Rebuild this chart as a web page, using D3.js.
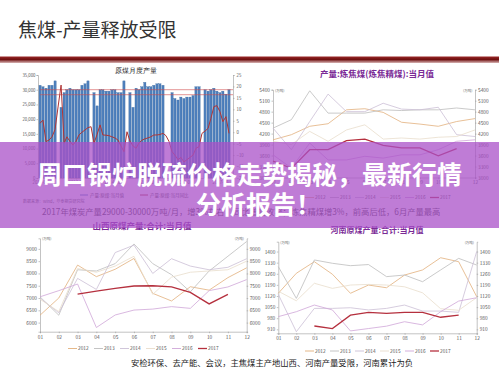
<!DOCTYPE html>
<html>
<head>
<meta charset="UTF-8">
<title>焦煤-产量释放受限</title>
<script src="https://cdn.jsdelivr.net/npm/d3@7"></script>
<style>
  body { margin: 0; background: #fff; }
  svg { display: block; font-family: 'Noto Sans CJK SC', 'Noto Sans', sans-serif; }
  .axis .domain, .axis .tick line { stroke: #9a9a9a; stroke-width: 0.6; }
  .axis text { fill: #555; }
</style>
</head>
<body>
<svg id="slide" width="499" height="375"></svg>
<script>
// ---- data ----
var monthStart = new Date(2012, 5, 1);   // 2012-06, one value per month
var coalOutput = [31500, 31000, 30500, 31500, 31500, 33000, null,
  24000, 29000, 30000, 30500, 30000, 30000, 30000, 31500, 32000, 33000, null,
  29000, 24500, 30000, 30000, 29500, 29500, 30000, 30000, 29000, 29000, 33000, null,
  29000, 24000, 30500, 30000, 31000, 32500, 31000, 31000, 31500, 32000, 32000, 31500, null, null,
  29000, 27000, 26500, 27500, 27000, 27500, 27500, 28000, 31000, 31000, null,
  30000, 29500, 30000, 30500, 29500, 29000, 29500, 28500, 30000];
var coalYoy = [3.9, 5.3, -4.1, -3.4, -2, 1.2, 11, 20.6, -4.8, -2, -4, -5.6,
  -4, -1.2, 0, 1, 2, 2.4, -4.8, -1, 3.2, -1.2, -1.3, -1.5,
  -2, -2.5, -3.4, -6, -8.5, 0.2, -3.9, -6, -7, -4.8, -3.5, -2.9,
  -2.5, -2, -1.2, -1.2, -1, -0.5, -1.5, -4, -8.5, -10, -12, -11,
  -13, -12, -11, -10, -7, -6.3, -0.5, 0.5, 1.7, 6, 11.2, 11.6,
  9, 4.6, 6.8, -0.5];
var targetBand = [30000, 28300];
var outputTicks = [0, 5000, 10000, 15000, 20000, 25000, 30000, 35000];
var yoyTicks = [-20, -15, -10, -5, 0, 5, 10, 15, 20, 25];
var dateTicks = ['2012-06', '2013-06', '2014-06', '2015-06', '2016-06', '2017-06'];

var years = ['2012', '2013', '2014', '2015', '2016', '2017'];
var months = ['01', '02', '03', '04', '05', '06', '07', '08', '09', '10', '11', '12'];

var cokingCoal = [
  [4030, 4170, 4400, 4470, 4850, 4880, 4780, 4510, 4460, 4400, 4530, 4610],
  [4350, 4580, 5370, 4760, 4760, 4760, 4850, 4830, 4850, 4850, 4900, 4850],
  [4350, 3760, 4530, 5280, 4800, 4800, 5030, 4870, 4850, 4920, 4170, 4120],
  [3990, 3900, 4260, 3990, 4300, 4440, 4050, 4080, 4050, 4100, 4120, 4300],
  [3620, 3260, 3940, 3480, 3480, 3580, 3530, 3620, 3620, 3760, 3990, 4030],
  [3450, 3250, 3760, 3760, 4010, 4050, 3880, 3810, 3810, 3590, 3790, null]];
var cokingTicks = [3000, 3300, 3600, 3900, 4200, 4500, 4800, 5100, 5400];

var shanxiCoal = [
  [6300, 7000, 8340, 7870, 8170, 8610, 7190, 6880, 7460, 7320, 7830, 8230],
  [7050, 6300, 8150, 8100, 8400, 9200, 8400, 7950, 7250, 8100, 8700, 9300],
  [7000, 6400, 7800, 7350, 8850, 9150, 8000, 8600, 8300, 8150, 8250, 8600],
  [6950, 6450, 8200, 8050, 8300, 8700, 7150, 7850, 8050, 8100, 8150, 8500],
  [7050, 7300, 7570, 5800, 6310, 6510, 6550, 6650, 6580, 7300, 7450, 7750],
  [null, null, 7160, 7280, 7390, 7490, 7500, 7450, 7230, 6760, 7150, null]];
var shanxiTicks = [6000, 6500, 7000, 7500, 8000, 8500, 9000];

var henanCoal = [
  [1137, 1263, 1336, 1257, 1137, 1189, 1172, 1252, 1284, 1361, 1336, 1116],
  [1305, 1105, 1347, 1326, 1311, 1318, 1242, 1252, 1210, 1284, 1357, 1315],
  [1130, 895, 1042, 1042, 1046, 1032, 1042, 1063, 1025, 1025, 1017, 1400],
  [1150, 1090, 1200, 1168, 1189, 1193, 1189, 1178, 1140, 1040, 1030, 1110],
  [990, 1021, 1063, 1032, 900, 915, 930, 958, 938, 1021, 1088, 1109],
  [null, null, 931, 915, 999, 1017, 1010, 1017, 1017, 986, 999, null]];
var henanTicks = [910, 980, 1050, 1120, 1190, 1260, 1330, 1400];

var yearColors = ['#e2b07c', '#bdbdbd', '#cbbfd6', '#e9ddcc', '#cfa6d8', '#b5303e'];
var titleColor = '#7a2a96';
var fontCJK = "'Noto Sans CJK SC', 'Noto Sans', sans-serif";

var svg = d3.select('#slide');

// small helper: d3.axis writes its own font attrs, so set ours after the call
function styleAxis(sel, size) {
  sel.attr('font-size', size).attr('font-family', fontCJK);
  return sel;
}

// ---- slide header ----
svg.append('text')
   .attr('x', 18).attr('y', 37)
   .attr('font-size', 19).attr('fill', '#333')
   .text('焦煤-产量释放受限');

var grad = svg.append('defs').append('linearGradient')
   .attr('id', 'band').attr('x1', 0).attr('y1', 0).attr('x2', 0).attr('y2', 1);
grad.append('stop').attr('offset', '0%').attr('stop-color', '#9c2a2a');
grad.append('stop').attr('offset', '45%').attr('stop-color', '#6e0d0d');
grad.append('stop').attr('offset', '100%').attr('stop-color', '#d9b5b5');
svg.append('rect').attr('x', 0).attr('y', 56.5).attr('width', 499).attr('height', 6.5)
   .attr('fill', 'url(#band)');

// ---- chart 1: monthly raw coal output ----
var c1 = svg.append('g');
var monthDates = coalOutput.map(function(d, i) { return d3.timeMonth.offset(monthStart, i); });
var x1 = d3.scaleTime()
           .domain([monthStart, monthDates[monthDates.length - 1]])
           .range([40, 229]);
var y1 = d3.scaleLinear().domain([0, 35000]).range([178, 75]);
var y1r = d3.scaleLinear().domain([-20, 25]).range([178, 75]);
var parseMonth = d3.timeParse('%Y-%m');

c1.append('text').attr('x', 136).attr('y', 73).attr('text-anchor', 'middle')
  .attr('font-size', 6.5).attr('fill', '#222').attr('font-family', "'DejaVu Serif', serif")
  .text('原煤月度产量');

c1.selectAll('rect.bar')
  .data(coalOutput.map(function(v, i) { return { date: monthDates[i], v: v }; })
                  .filter(function(d) { return d.v !== null; }))
  .enter().append('rect')
    .attr('class', 'bar')
    .attr('x', function(d) { return x1(d.date) - 1.1; })
    .attr('y', function(d) { return y1(d.v); })
    .attr('width', 2.2)
    .attr('height', function(d) { return y1(0) - y1(d.v); })
    .attr('fill', '#4f80bd')
    .attr('stroke', '#2e5f99').attr('stroke-width', 0.3);

c1.selectAll('line.target')
  .data(targetBand)
  .enter().append('line')
    .attr('x1', 40).attr('x2', 233)
    .attr('y1', function(d) { return y1(d); })
    .attr('y2', function(d) { return y1(d); })
    .attr('stroke', '#d24a4a').attr('stroke-width', 0.6);

c1.append('path')
  .datum(coalYoy)
  .attr('fill', 'none').attr('stroke', '#b03535').attr('stroke-width', 1)
  .attr('d', d3.line()
      .x(function(d, i) { return x1(monthDates[i]); })
      .y(function(d) { return y1r(d); }));

c1.append('g').attr('class', 'axis')
  .attr('transform', 'translate(38,0)')
  .call(d3.axisLeft(y1).tickValues(outputTicks).tickSize(1.5).tickPadding(1))
  .call(styleAxis, 4.3);
c1.append('g').attr('class', 'axis')
  .attr('transform', 'translate(233,0)')
  .call(d3.axisRight(y1r).tickValues(yoyTicks).tickSize(1.5).tickPadding(2))
  .call(styleAxis, 4.3);
c1.append('g').attr('class', 'axis')
  .attr('transform', 'translate(0,178)')
  .call(d3.axisBottom(x1).tickValues(dateTicks.map(parseMonth))
          .tickFormat(d3.timeFormat('%Y-%m')).tickSize(1.5).tickPadding(1.5))
  .call(styleAxis, 4.3);

var leg1 = [['产量:原煤:当月值', '#4f80bd'], ['产量:原煤:当月同比', '#b03535']];
var l1 = c1.selectAll('g.leg').data(leg1).enter().append('g')
  .attr('transform', function(d, i) { return 'translate(' + (80 + i * 60) + ',195)'; });
l1.append('line').attr('x1', 0).attr('x2', 8).attr('stroke', function(d) { return d[1]; }).attr('stroke-width', 1);
l1.append('text').attr('x', 10).attr('y', 1.6).attr('font-size', 4.5).attr('fill', '#444')
  .text(function(d) { return d[0]; });
c1.append('text').attr('x', 23).attr('y', 203).attr('font-size', 4).attr('fill', '#555')
  .text('数据来源：Wind，华泰期货研究院');

// ---- charts 2–4: monthly values by year ----
function yearChart(series, ticks, box, title) {
  var g = svg.append('g');
  var x = d3.scalePoint().domain(months).range([box.left, box.right]);
  var y = d3.scaleLinear().domain(box.domain).range([box.bottom, box.top]);

  g.append('text').attr('x', box.titleX).attr('y', box.titleY).attr('text-anchor', 'middle')
   .attr('font-size', box.titleSize).attr('font-weight', 700).attr('fill', titleColor)
   .text(title);

  g.append('g').attr('class', 'axis')
   .attr('transform', 'translate(' + box.left + ',0)')
   .call(d3.axisLeft(y).tickValues(ticks).tickSize(1.5).tickPadding(1.5).tickFormat(d3.format('d')))
   .call(styleAxis, 4.8);
  g.append('g').attr('class', 'axis')
   .attr('transform', 'translate(' + box.right + ',0)')
   .call(d3.axisRight(y).tickValues(ticks).tickSize(1.5).tickPadding(1.5).tickFormat(d3.format('d')))
   .call(styleAxis, 4.8);
  g.append('g').attr('class', 'axis')
   .attr('transform', 'translate(0,' + box.bottom + ')')
   .call(d3.axisBottom(x).tickSize(1.5).tickPadding(2))
   .call(styleAxis, 4.8);

  [box.left + 2, box.right - 12].forEach(function(ux) {
    g.append('text').attr('x', ux).attr('y', box.top + 2).attr('font-size', 3.5)
     .attr('fill', '#666').text('(万吨)');
  });

  var line = d3.line()
     .defined(function(d) { return d !== null; })
     .x(function(d, i) { return x(months[i]); })
     .y(function(d) { return y(d); });

  g.selectAll('path.yr').data(series).enter().append('path')
   .attr('class', 'yr')
   .attr('fill', 'none')
   .attr('stroke', function(d, i) { return yearColors[i]; })
   .attr('stroke-width', function(d, i) { return i === 5 ? 1.3 : 0.8; })
   .attr('d', line);

  var lg = g.selectAll('g.leg').data(years).enter().append('g')
   .attr('transform', function(d, i) { return 'translate(' + (box.legendX + i * box.legendStep) + ',' + box.legendY + ')'; });
  lg.append('line').attr('x1', 0).attr('x2', 9)
    .attr('stroke', function(d, i) { return yearColors[i]; })
    .attr('stroke-width', function(d, i) { return i === 5 ? 1.3 : 0.9; });
  lg.append('text').attr('x', 10).attr('y', 1.7).attr('font-size', 4.8).attr('fill', '#555')
    .text(function(d) { return d; });
}

yearChart(cokingCoal, cokingTicks,
  { left: 273, right: 475, top: 89.7, bottom: 177.5, domain: [3000, 5400],
    titleX: 377, titleY: 77, titleSize: 8.5, legendX: 305, legendY: 197.5, legendStep: 25 },
  '产量:炼焦煤(炼焦精煤):当月值');
yearChart(shanxiCoal, shanxiTicks,
  { left: 40, right: 246.7, top: 238.3, bottom: 331.7, domain: [5630, 9430],
    titleX: 142, titleY: 229, titleSize: 8.5, legendX: 68, legendY: 348.5, legendStep: 26 },
  '山西原煤产量:合计:当月值');
yearChart(henanCoal, henanTicks,
  { left: 278.3, right: 476.7, top: 241.7, bottom: 333.3, domain: [885, 1462],
    titleX: 377, titleY: 233, titleSize: 8, legendX: 305, legendY: 351, legendStep: 25 },
  '河南原煤产量:合计:当月值');

// ---- notes ----
svg.append('text').attr('x', 42).attr('y', 215).attr('font-size', 8.3).attr('fill', '#444')
   .text('2017年煤炭产量29000-30000万吨/月，增3%左右，同比增幅收窄；炼焦精煤增3%，前高后低，6月产量最高');
svg.append('text').attr('x', 272).attr('y', 366).attr('text-anchor', 'middle')
   .attr('font-size', 8.3).attr('fill', '#222')
   .text('安检环保、去产能、会议，主焦煤主产地山西、河南产量受限，河南累计为负');

// ---- overlay banner ----
svg.append('rect').attr('x', 0).attr('y', 142).attr('width', 499).attr('height', 86)
   .attr('fill', 'rgb(170,80,200)').attr('fill-opacity', 0.75);
svg.append('text').attr('x', 249.5).attr('y', 184).attr('text-anchor', 'middle')
   .attr('font-size', 25).attr('font-weight', 700).attr('fill', '#fff')
   .text('周口锅炉脱硫价格走势揭秘，最新行情');
svg.append('text').attr('x', 196).attr('y', 213.5)
   .attr('font-size', 25).attr('font-weight', 700).attr('fill', '#fff')
   .text('分析报告！');
</script>
</body>
</html>
